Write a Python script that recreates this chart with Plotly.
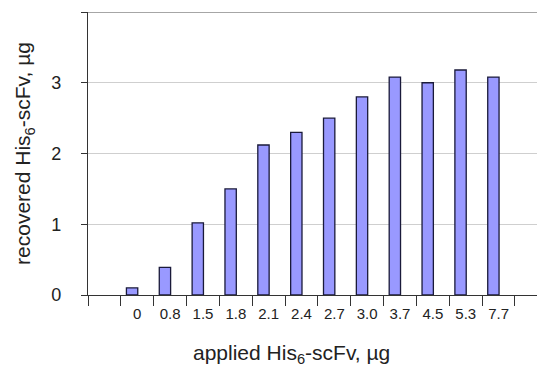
import plotly.graph_objects as go

# Data
categories = [" ", "0", "0.8", "1.5", "1.8", "2.1", "2.4", "2.7", "3.0", "3.7", "4.5", "5.3", "7.7"]
applied = ["0", "0.8", "1.5", "1.8", "2.1", "2.4", "2.7", "3.0", "3.7", "4.5", "5.3", "7.7"]
recovered = [0.10, 0.39, 1.02, 1.50, 2.12, 2.30, 2.50, 2.80, 3.08, 3.00, 3.18, 3.08]
y_tickvals = [0, 1, 2, 3, 4]
y_ticktext = ["0", "1", "2", "3", ""]

FONT = "Liberation Sans, Arial, Helvetica, sans-serif"
INK = "#222222"

fig = go.Figure()
fig.add_trace(go.Bar(
    x=applied, y=recovered,
    offset=-0.33, width=0.345,
    marker=dict(color="#9999FF", line=dict(color="#1a1a3a", width=1.3)),
))

fig.update_layout(
    width=537, height=365,
    margin=dict(l=88, r=0, t=12, b=70),
    paper_bgcolor="white", plot_bgcolor="white",
    showlegend=False,
    font=dict(family=FONT, color=INK),
    xaxis=dict(
        type="category", categoryorder="array", categoryarray=categories,
        range=[-0.5, 13.17], tickson="boundaries", automargin=False,
        ticks="outside", ticklen=10, tickwidth=1.3, tickcolor="#333333",
        showline=True, linecolor="#333333", linewidth=1.3,
        showgrid=False, tickfont=dict(size=15, color=INK), ticklabelstandoff=5,
    ),
    yaxis=dict(
        range=[0, 4], tickvals=y_tickvals, ticktext=y_ticktext, automargin=False,
        ticks="outside", ticklen=6, tickwidth=1.3, tickcolor="#333333",
        showline=True, linecolor="#333333", linewidth=1.3,
        showgrid=True, gridcolor="#cfcfcf", gridwidth=1, zeroline=False,
        tickfont=dict(size=18, color=INK), ticklabelstandoff=16,
        title=dict(text="recovered His<sub>6</sub>-scFv, µg", font=dict(size=21, color=INK), standoff=14),
    ),
    shapes=[dict(type="line", xref="paper", yref="y", x0=0, x1=1, y0=4, y1=4,
                 line=dict(color="#888888", width=1.3))],
    annotations=[dict(text="applied His<sub>6</sub>-scFv, µg", xref="paper", yref="paper",
                      x=0.453, y=-0.209, xanchor="center", yanchor="middle",
                      showarrow=False, font=dict(size=21, color=INK))],
)

fig.write_html("out.html", config={"displayModeBar": False},
               post_script="document.body.style.margin='0';document.body.style.overflow='hidden';")
